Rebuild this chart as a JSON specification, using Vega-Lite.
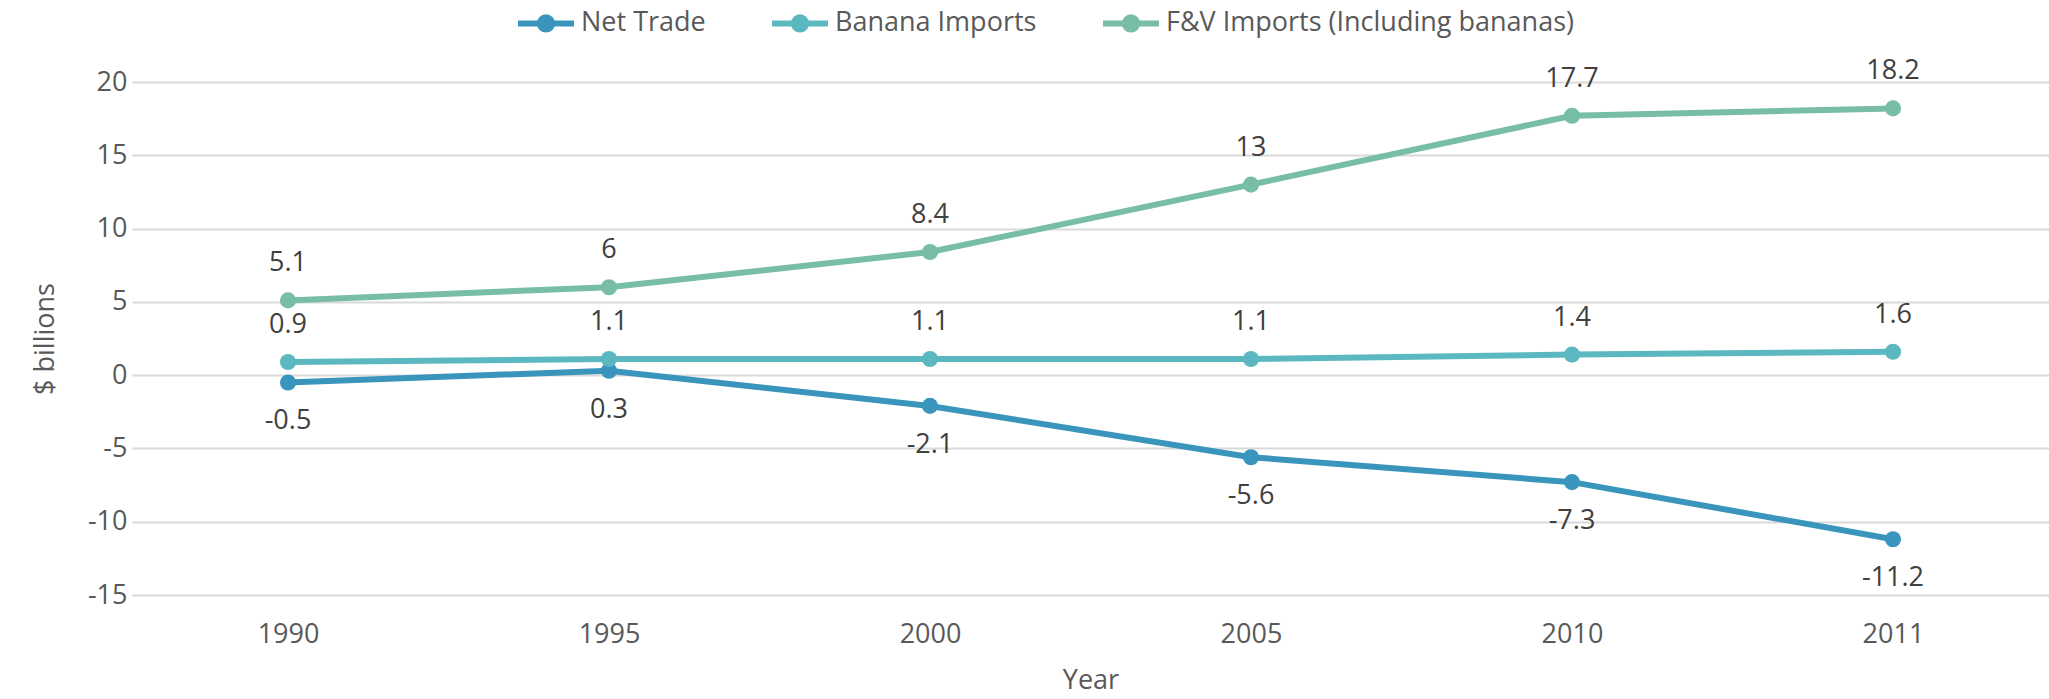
{
  "$schema": "https://vega.github.io/schema/vega-lite/v6.json",
  "autosize": {"type": "none"},
  "width": 1917,
  "height": 513,
  "padding": {"left": 132, "top": 82, "right": 0, "bottom": 104},
  "background": "white",
  "config": {
    "font": "Open Sans",
    "view": {"stroke": null},
    "axis": {"labelFont": "Open Sans", "titleFont": "Open Sans", "labelColor": "#595959", "titleColor": "#595959", "titleFontWeight": "normal"},
    "legend": {"labelFont": "Open Sans"}
  },
  "data": {
    "values": [
      {"year": "1990", "series": "Net Trade", "value": -0.5},
      {"year": "1995", "series": "Net Trade", "value": 0.3},
      {"year": "2000", "series": "Net Trade", "value": -2.1},
      {"year": "2005", "series": "Net Trade", "value": -5.6},
      {"year": "2010", "series": "Net Trade", "value": -7.3},
      {"year": "2011", "series": "Net Trade", "value": -11.2},
      {"year": "1990", "series": "Banana Imports", "value": 0.9},
      {"year": "1995", "series": "Banana Imports", "value": 1.1},
      {"year": "2000", "series": "Banana Imports", "value": 1.1},
      {"year": "2005", "series": "Banana Imports", "value": 1.1},
      {"year": "2010", "series": "Banana Imports", "value": 1.4},
      {"year": "2011", "series": "Banana Imports", "value": 1.6},
      {"year": "1990", "series": "F&V Imports (Including bananas)", "value": 5.1},
      {"year": "1995", "series": "F&V Imports (Including bananas)", "value": 6},
      {"year": "2000", "series": "F&V Imports (Including bananas)", "value": 8.4},
      {"year": "2005", "series": "F&V Imports (Including bananas)", "value": 13},
      {"year": "2010", "series": "F&V Imports (Including bananas)", "value": 17.7},
      {"year": "2011", "series": "F&V Imports (Including bananas)", "value": 18.2}
    ]
  },
  "encoding": {
    "x": {
      "field": "year", "type": "ordinal", "sort": null,
      "scale": {"type": "point", "padding": 0.486},
      "axis": {
        "title": "Year", "labelAngle": 0, "labelFontSize": 27, "titleFontSize": 27,
        "domain": false, "ticks": false, "grid": false,
        "labelPadding": 26, "titlePadding": 20
      }
    },
    "y": {
      "field": "value", "type": "quantitative",
      "scale": {"domain": [-15, 20], "nice": false, "zero": false},
      "axis": {
        "title": "$ billions", "values": [-15, -10, -5, 0, 5, 10, 15, 20],
        "labelExpr": "replace(datum.label, '\u2212', '-')",
        "labelFontSize": 27, "titleFontSize": 27,
        "domain": false, "ticks": false,
        "gridColor": "#d9d9d9", "gridWidth": 2,
        "labelPadding": 5, "titlePadding": 28
      }
    },
    "color": {
      "field": "series", "type": "nominal",
      "scale": {
        "domain": ["Net Trade", "Banana Imports", "F&V Imports (Including bananas)"],
        "range": ["#3a95bd", "#5bb8c1", "#77bea4"]
      },
      "legend": {
        "title": null, "orient": "none", "direction": "horizontal",
        "legendX": 383, "legendY": -90,
        "labelFontSize": 27, "labelColor": "#595959", "labelOffset": 4, "labelLimit": 0,
        "columnPadding": 54,
        "symbolType": "M-1,0L1,0M0.22,0A0.22,0.22,0,1,1,-0.22,0A0.22,0.22,0,1,1,0.22,0Z",
        "symbolSize": 3136, "symbolStrokeWidth": 6,
        "encode": {"symbols": {"update": {"fill": {"scale": "color", "field": "value"}, "fillOpacity": {"value": 1}}}}
      }
    }
  },
  "layer": [
    {"mark": {"type": "line", "strokeWidth": 6}},
    {"mark": {"type": "point", "filled": true, "size": 260, "opacity": 1}},
    {
      "transform": [{"filter": "datum.series !== 'Net Trade'"}],
      "mark": {"type": "text", "fontSize": 27, "color": "#404040", "baseline": "middle", "dy": -37},
      "encoding": {"text": {"field": "value", "type": "nominal"}, "color": {"value": "#404040"}}
    },
    {
      "transform": [{"filter": "datum.series === 'Net Trade'"}],
      "mark": {"type": "text", "fontSize": 27, "color": "#404040", "baseline": "middle", "dy": 39},
      "encoding": {"text": {"field": "value", "type": "nominal"}, "color": {"value": "#404040"}}
    }
  ]
}
